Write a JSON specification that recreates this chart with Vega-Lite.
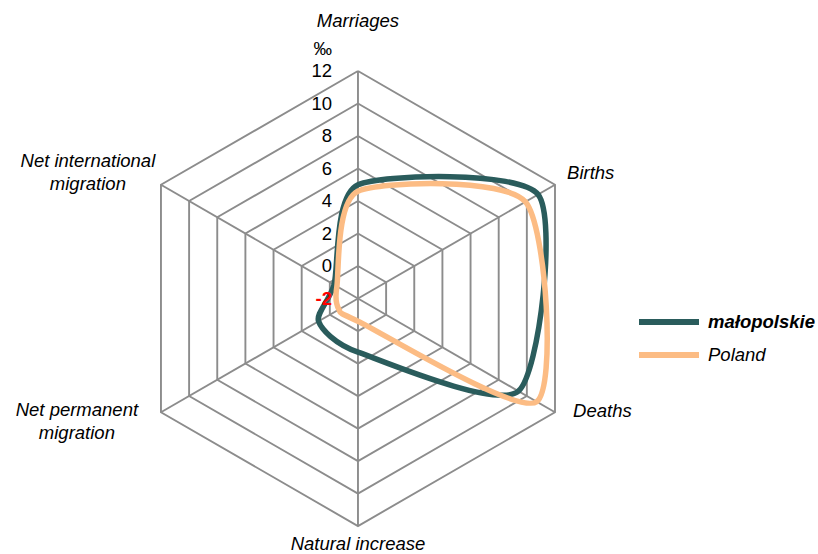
{
  "$schema": "https://vega.github.io/schema/vega-lite/v6.json",
  "width": 818,
  "height": 554,
  "padding": 0,
  "autosize": {"type": "none"},
  "background": "white",
  "config": {"view": {"stroke": null}, "font": "Liberation Sans"},
  "datasets": {
    "axes": [
      {"indicator": "Marriages", "order": 0},
      {"indicator": "Births", "order": 1},
      {"indicator": "Deaths", "order": 2},
      {"indicator": "Natural increase", "order": 3},
      {"indicator": "Net permanent migration", "order": 4},
      {"indicator": "Net international migration", "order": 5}
    ],
    "levels": [
      {"level": 0, "k": [0, 1, 2, 3, 4, 5, 6]},
      {"level": 2, "k": [0, 1, 2, 3, 4, 5, 6]},
      {"level": 4, "k": [0, 1, 2, 3, 4, 5, 6]},
      {"level": 6, "k": [0, 1, 2, 3, 4, 5, 6]},
      {"level": 8, "k": [0, 1, 2, 3, 4, 5, 6]},
      {"level": 10, "k": [0, 1, 2, 3, 4, 5, 6]},
      {"level": 12, "k": [0, 1, 2, 3, 4, 5, 6]}
    ],
    "ticks": [
      {"tick": -2}, {"tick": 0}, {"tick": 2}, {"tick": 4}, {"tick": 6},
      {"tick": 8}, {"tick": 10}, {"tick": 12}
    ],
    "rates": [
      {"region": "małopolskie", "indicator": "Marriages", "value": 5.0},
      {"region": "małopolskie", "indicator": "Births", "value": 10.8},
      {"region": "małopolskie", "indicator": "Deaths", "value": 9.4},
      {"region": "małopolskie", "indicator": "Natural increase", "value": 1.3},
      {"region": "małopolskie", "indicator": "Net permanent migration", "value": 0.8},
      {"region": "małopolskie", "indicator": "Net international migration", "value": -0.3},
      {"region": "Poland", "indicator": "Marriages", "value": 4.6},
      {"region": "Poland", "indicator": "Births", "value": 9.9},
      {"region": "Poland", "indicator": "Deaths", "value": 10.7},
      {"region": "Poland", "indicator": "Natural increase", "value": -0.6},
      {"region": "Poland", "indicator": "Net permanent migration", "value": -0.65},
      {"region": "Poland", "indicator": "Net international migration", "value": -0.5}
    ]
  },
  "encoding": {
    "x": {"field": "px", "type": "quantitative", "scale": {"domain": [-22.03, 28.31], "nice": false, "zero": false}, "axis": null},
    "y": {"field": "py", "type": "quantitative", "scale": {"domain": [-15.72, 18.37], "nice": false, "zero": false}, "axis": null}
  },
  "layer": [
    {
      "data": {"name": "levels"},
      "transform": [
        {"flatten": ["k"]},
        {"calculate": "(datum.level + 2) * sin(datum.k * PI / 3)", "as": "px"},
        {"calculate": "(datum.level + 2) * cos(datum.k * PI / 3)", "as": "py"}
      ],
      "mark": {"type": "line", "stroke": "#8c8c8c", "strokeWidth": 1.9},
      "encoding": {
        "detail": {"field": "level", "type": "nominal"},
        "order": {"field": "k", "type": "quantitative"}
      }
    },
    {
      "data": {"name": "axes"},
      "transform": [
        {"calculate": "0", "as": "px"},
        {"calculate": "0", "as": "py"},
        {"calculate": "14 * sin(datum.order * PI / 3)", "as": "ex"},
        {"calculate": "14 * cos(datum.order * PI / 3)", "as": "ey"}
      ],
      "mark": {"type": "rule", "stroke": "#8c8c8c", "strokeWidth": 1.9},
      "encoding": {
        "x2": {"field": "ex"},
        "y2": {"field": "ey"}
      }
    },
    {
      "data": {"name": "rates"},
      "transform": [
        {"calculate": "indexof(['Marriages','Births','Deaths','Natural increase','Net permanent migration','Net international migration'], datum.indicator)", "as": "k"},
        {"calculate": "(datum.value + 2) * sin(datum.k * PI / 3)", "as": "px"},
        {"calculate": "(datum.value + 2) * cos(datum.k * PI / 3)", "as": "py"}
      ],
      "mark": {"type": "line", "interpolate": "cardinal-closed", "tension": 0.3, "strokeWidth": 5.5, "strokeCap": "round"},
      "encoding": {
        "color": {
          "field": "region",
          "type": "nominal",
          "scale": {"domain": ["małopolskie", "Poland"], "range": ["#2a5c5c", "#fcbc84"]},
          "legend": {
            "title": null,
            "orient": "none",
            "legendX": 651,
            "legendY": 304,
            "padding": 0,
            "symbolType": "M-2,0H2",
            "symbolSize": 900,
            "symbolStrokeWidth": 6,
            "labelFont": "Liberation Sans",
            "labelFontSize": 18.5,
            "labelFontStyle": "italic",
            "labelColor": "black",
            "labelOffset": 21,
            "rowPadding": 3,
            "encode": {
              "labels": {"update": {"fontWeight": {"signal": "datum.value === 'małopolskie' ? 'bold' : 'normal'"}}}
            }
          }
        },
        "order": {"field": "k", "type": "quantitative"}
      }
    },
    {
      "data": {"name": "ticks"},
      "transform": [
        {"filter": "datum.tick != -2"},
        {"calculate": "0", "as": "px"},
        {"calculate": "datum.tick + 2", "as": "py"},
        {"calculate": "'' + datum.tick", "as": "lbl"}
      ],
      "mark": {"type": "text", "align": "right", "baseline": "middle", "dx": -26, "fontSize": 18.5, "color": "black"},
      "encoding": {"text": {"field": "lbl", "type": "nominal"}}
    },
    {
      "data": {"name": "ticks"},
      "transform": [
        {"filter": "datum.tick == -2"},
        {"calculate": "0", "as": "px"},
        {"calculate": "datum.tick + 2", "as": "py"},
        {"calculate": "'' + datum.tick", "as": "lbl"}
      ],
      "mark": {"type": "text", "align": "right", "baseline": "middle", "dx": -26, "fontSize": 18.5, "fontWeight": "bold", "color": "#ff0000"},
      "encoding": {"text": {"field": "lbl", "type": "nominal"}}
    },
    {
      "data": {"values": [{"unit": "‰"}]},
      "transform": [
        {"calculate": "0", "as": "px"},
        {"calculate": "15.35", "as": "py"}
      ],
      "mark": {"type": "text", "align": "right", "baseline": "middle", "dx": -26, "fontSize": 18.5, "color": "black"},
      "encoding": {"text": {"field": "unit", "type": "nominal"}}
    },
    {
      "data": {"name": "axes"},
      "transform": [
        {"filter": "datum.order == 1"},
        {"calculate": "15 * sin(datum.order * PI / 3)", "as": "px"},
        {"calculate": "15 * cos(datum.order * PI / 3)", "as": "py"}
      ],
      "mark": {"type": "text", "align": "left", "baseline": "middle", "dx": -2, "dy": -4, "fontSize": 18.5, "fontStyle": "italic", "color": "black"},
      "encoding": {"text": {"field": "indicator", "type": "nominal"}}
    },
    {
      "data": {"name": "axes"},
      "transform": [
        {"filter": "datum.order == 2"},
        {"calculate": "15 * sin(datum.order * PI / 3)", "as": "px"},
        {"calculate": "15 * cos(datum.order * PI / 3)", "as": "py"}
      ],
      "mark": {"type": "text", "align": "left", "baseline": "middle", "dx": 4, "dy": -9, "fontSize": 18.5, "fontStyle": "italic", "color": "black"},
      "encoding": {"text": {"field": "indicator", "type": "nominal"}}
    },
    {
      "data": {"name": "axes"},
      "transform": [
        {"filter": "datum.order == 5"},
        {"calculate": "15 * sin(datum.order * PI / 3)", "as": "px"},
        {"calculate": "15 * cos(datum.order * PI / 3)", "as": "py"},
        {"calculate": "replace(datum.indicator, ' migration', '|migration')", "as": "lbl"}
      ],
      "mark": {"type": "text", "align": "center", "baseline": "middle", "dx": -59, "dy": -15.5, "lineBreak": "|", "lineHeight": 23, "fontSize": 18.5, "fontStyle": "italic", "color": "black"},
      "encoding": {"text": {"field": "lbl", "type": "nominal"}}
    },
    {
      "data": {"name": "axes"},
      "transform": [
        {"filter": "datum.order == 4"},
        {"calculate": "15 * sin(datum.order * PI / 3)", "as": "px"},
        {"calculate": "15 * cos(datum.order * PI / 3)", "as": "py"},
        {"calculate": "replace(datum.indicator, ' migration', '|migration')", "as": "lbl"}
      ],
      "mark": {"type": "text", "align": "center", "baseline": "middle", "dx": -70, "dy": -10.5, "lineBreak": "|", "lineHeight": 23, "fontSize": 18.5, "fontStyle": "italic", "color": "black"},
      "encoding": {"text": {"field": "lbl", "type": "nominal"}}
    },
    {
      "data": {"name": "axes"},
      "transform": [
        {"filter": "datum.order == 0"},
        {"calculate": "0", "as": "px"},
        {"calculate": "17.14", "as": "py"}
      ],
      "mark": {"type": "text", "align": "center", "baseline": "middle", "dy": 1, "fontSize": 18.5, "fontStyle": "italic", "color": "black"},
      "encoding": {"text": {"field": "indicator", "type": "nominal"}}
    },
    {
      "data": {"name": "axes"},
      "transform": [
        {"filter": "datum.order == 3"},
        {"calculate": "0", "as": "px"},
        {"calculate": "-15.17", "as": "py"}
      ],
      "mark": {"type": "text", "align": "center", "baseline": "middle", "dy": -1, "fontSize": 18.5, "fontStyle": "italic", "color": "black"},
      "encoding": {"text": {"field": "indicator", "type": "nominal"}}
    }
  ]
}
